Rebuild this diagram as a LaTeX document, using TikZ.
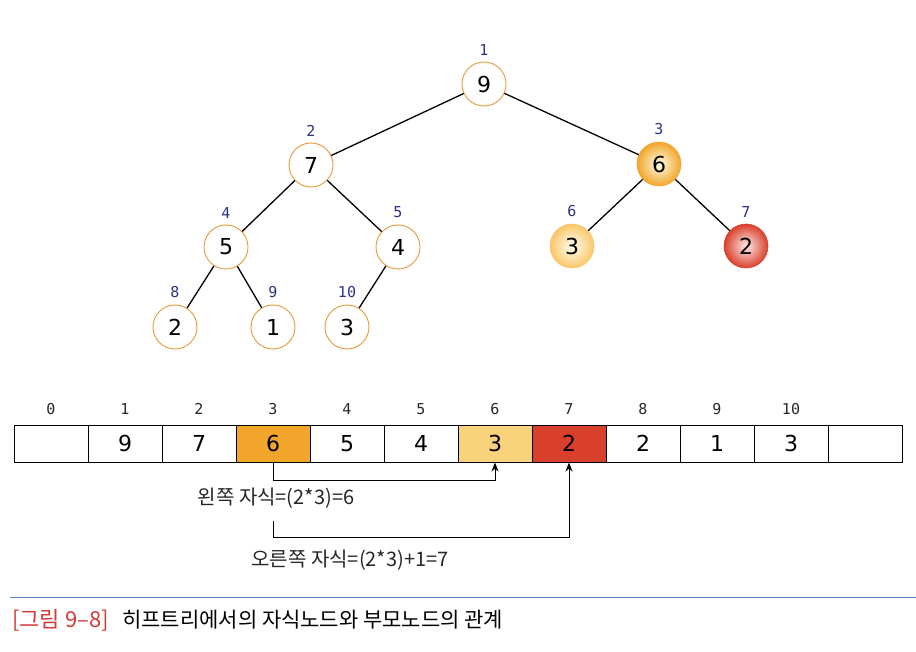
\documentclass[tikz,border=0pt]{standalone}
\usepackage{xcolor}
\usepackage{fontspec}
\setmainfont{DejaVu Sans}
\newfontfamily\idxfont{DejaVu Sans Mono}
\newfontfamily\krfont{Noto Sans CJK KR}
\usepackage{tikz}
\usetikzlibrary{arrows.meta, positioning, calc}
\definecolor{heapnavy}{HTML}{2E3182}
\definecolor{heaporange}{HTML}{E99A3A}
\definecolor{cellorange}{HTML}{F2A52B}
\definecolor{cellyellow}{HTML}{F8D37B}
\definecolor{cellred}{HTML}{D8402B}
\definecolor{capblue}{HTML}{4F86C0}
\definecolor{capred}{HTML}{D23A35}

\begin{document}
\begin{tikzpicture}[x=1pt, y=-1pt,
		heapnode/.style={circle, draw=heaporange, line width=0.9pt, fill=white, minimum size=44pt, inner sep=0pt, font=\fontsize{22}{22}\selectfont},
		ball/.style={circle, draw=#1, line width=0.6pt, shading=radial, outer color=#1, minimum size=44pt, inner sep=0pt, font=\fontsize{22}{22}\selectfont},
		treeidx/.style={font=\idxfont\fontsize{15}{15}\selectfont, text=heapnavy},
		arridx/.style={font=\idxfont\fontsize{15}{15}\selectfont, text=black!85},
		cell/.style={draw=black, line width=1pt, minimum width=74pt, minimum height=37pt, inner sep=0pt, font=\fontsize{22}{22}\selectfont},
		krtext/.style={font=\krfont\fontsize{20}{20}\selectfont, text=black!85},
		link/.style={line width=1.3pt, black},
		ptr/.style={line width=1pt, black, -{Stealth[length=9pt, width=7pt]}}]
	\useasboundingbox (0,0) rectangle (916,652);
	\node[heapnode] (t1) at (484,84) {9};
	\node[heapnode] (t2) at (311,165) {7};
	\node[ball=cellorange, inner color=yellow!10] (t3) at (659,164) {6};
	\node[heapnode] (t4) at (226,247) {5};
	\node[heapnode] (t5) at (398,247) {4};
	\node[ball=cellyellow!85!orange, inner color=yellow!5] (t6) at (572,246) {3};
	\node[ball=cellred, inner color=red!8] (t7) at (746,246) {2};
	\node[heapnode] (t8) at (175,327) {2};
	\node[heapnode] (t9) at (273,327) {1};
	\node[heapnode] (t10) at (347,327) {3};
	\foreach \i in {1,...,10}
		\node[treeidx, above=3pt of t\i] (l\i) {\i};
	\foreach \p/\c in {1/2, 1/3, 2/4, 2/5, 3/6, 3/7, 4/8, 4/9, 5/10}
		\draw[link] (t\p) -- (t\c);

	\foreach \i/\v/\f in {0//white, 1/9/white, 2/7/white, 3/6/cellorange, 4/5/white, 5/4/white, 6/3/cellyellow, 7/2/cellred, 8/2/white, 9/1/white, 10/3/white, 11//white} {
		\node[cell, fill=\f] (a\i) at ({51+74*\i}, 443.5) {\v};
	}
	\foreach \i in {0,...,10}
		\node[arridx, above=6pt of a\i] (n\i) {\i};

	\draw[ptr] (a3.south) -- ++(0,18) -| (a6.south);
	\node[krtext] (lchild) at (276,498) {왼쪽 자식=(2*3)=6};
	\coordinate (rstart) at ($(a3.south)+(0,58)$);
	\draw[ptr] (rstart) -- ++(0,17) -| (a7.south);
	\node[krtext] (rchild) at (350,560) {오른쪽 자식=(2*3)+1=7};

	\draw[capblue, line width=0.8pt] (10,597) -- (916,597);
	\node[anchor=west, inner sep=0pt, font=\krfont\fontsize{22}{22}\selectfont, text=capred] (capnum) at (12,620) {[그림 9–8]};
	\node[right=13pt of capnum, inner sep=0pt, font=\krfont\fontsize{21}{21}\selectfont] (captext) {히프트리에서의 자식노드와 부모노드의 관계};
\end{tikzpicture}
\end{document}
